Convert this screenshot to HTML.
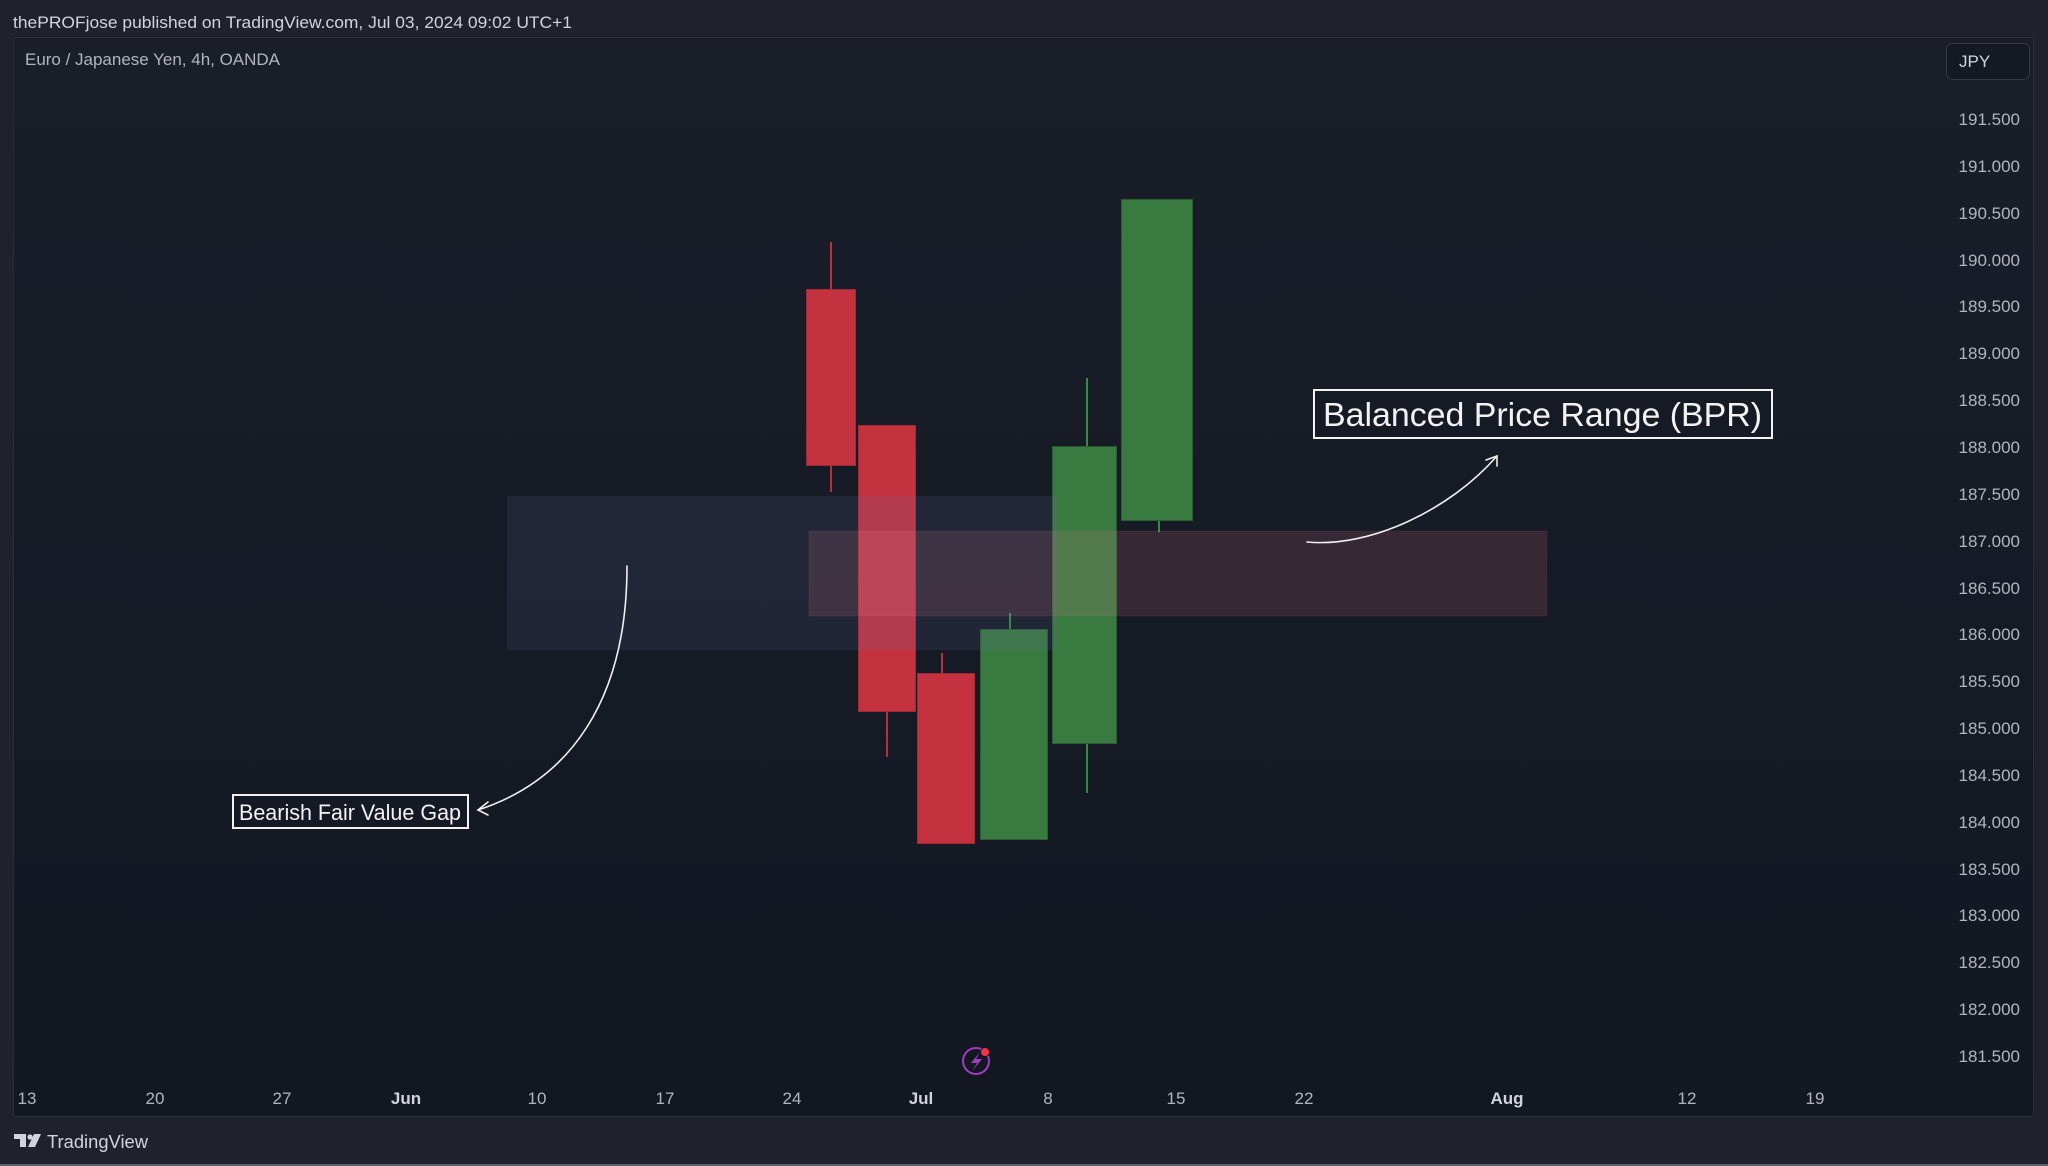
<!DOCTYPE html>
<html><head><meta charset="utf-8"><style>
html,body{margin:0;padding:0;background:#1f222c;width:2048px;height:1166px;overflow:hidden}
svg{display:block}
text{font-family:"Liberation Sans",sans-serif}
</style></head><body>
<svg width="2048" height="1166" viewBox="0 0 2048 1166" xmlns="http://www.w3.org/2000/svg">
<defs>
<linearGradient id="pg" x1="0" y1="0" x2="0" y2="1">
<stop offset="0" stop-color="#1a1e29"/>
<stop offset="1" stop-color="#131722"/>
</linearGradient>
</defs>
<rect x="0" y="0" width="2048" height="1166" fill="#1f222c"/>
<rect x="0" y="1164" width="2048" height="2" fill="#5d606b"/>
<text x="13" y="28" font-size="17" fill="#d1d4dc" textLength="559" lengthAdjust="spacingAndGlyphs">thePROFjose published on TradingView.com, Jul 03, 2024 09:02 UTC+1</text>
<rect x="13.5" y="37.5" width="2020" height="1079" fill="url(#pg)" stroke="#2a2e39" stroke-width="1"/>
<text x="25" y="65" font-size="17" fill="#b2b5be" textLength="255" lengthAdjust="spacingAndGlyphs">Euro / Japanese Yen, 4h, OANDA</text>
<rect x="1946.5" y="43.5" width="83" height="36" rx="6" fill="#151924" stroke="#363a45"/>
<text x="1959" y="67" font-size="17" fill="#d1d4dc">JPY</text>
<g font-size="17" fill="#b2b5be" text-anchor="end">
<text x="2020" y="125">191.500</text>
<text x="2020" y="172">191.000</text>
<text x="2020" y="219">190.500</text>
<text x="2020" y="266">190.000</text>
<text x="2020" y="312">189.500</text>
<text x="2020" y="359">189.000</text>
<text x="2020" y="406">188.500</text>
<text x="2020" y="453">188.000</text>
<text x="2020" y="500">187.500</text>
<text x="2020" y="547">187.000</text>
<text x="2020" y="594">186.500</text>
<text x="2020" y="640">186.000</text>
<text x="2020" y="687">185.500</text>
<text x="2020" y="734">185.000</text>
<text x="2020" y="781">184.500</text>
<text x="2020" y="828">184.000</text>
<text x="2020" y="875">183.500</text>
<text x="2020" y="921">183.000</text>
<text x="2020" y="968">182.500</text>
<text x="2020" y="1015">182.000</text>
<text x="2020" y="1062">181.500</text>
</g>
<g font-size="17" text-anchor="middle" fill="#b2b5be">
<text x="27" y="1104">13</text>
<text x="155" y="1104">20</text>
<text x="282" y="1104">27</text>
<text x="406" y="1104" font-weight="bold" fill="#d1d4dc">Jun</text>
<text x="537" y="1104">10</text>
<text x="665" y="1104">17</text>
<text x="792" y="1104">24</text>
<text x="921" y="1104" font-weight="bold" fill="#d1d4dc">Jul</text>
<text x="1048" y="1104">8</text>
<text x="1176" y="1104">15</text>
<text x="1304" y="1104">22</text>
<text x="1507" y="1104" font-weight="bold" fill="#d1d4dc">Aug</text>
<text x="1687" y="1104">12</text>
<text x="1815" y="1104">19</text>
</g>
<!-- candles -->
<g>
<line x1="831" y1="242" x2="831" y2="492" stroke="#e8394a" stroke-width="1.5"/>
<rect x="806.5" y="289.5" width="49" height="176" fill="#c4323f" stroke="#9e2b36"/>
<line x1="887" y1="700" x2="887" y2="757" stroke="#e8394a" stroke-width="1.5"/>
<rect x="858.5" y="425.5" width="57" height="286" fill="#c4323f" stroke="#9e2b36"/>
<line x1="942" y1="653" x2="942" y2="680" stroke="#e8394a" stroke-width="1.5"/>
<rect x="917.5" y="673.5" width="57" height="170" fill="#c4323f" stroke="#9e2b36"/>
<line x1="1010" y1="613" x2="1010" y2="635" stroke="#43b04d" stroke-width="1.5"/>
<rect x="980.5" y="629.5" width="67" height="210" fill="#397a41" stroke="#2c5a33"/>
<line x1="1087" y1="378" x2="1087" y2="793" stroke="#43b04d" stroke-width="1.5"/>
<rect x="1052.5" y="446.5" width="64" height="297" fill="#397a41" stroke="#2c5a33"/>
<line x1="1159" y1="510" x2="1159" y2="532" stroke="#43b04d" stroke-width="1.5"/>
<rect x="1121.5" y="199.5" width="71" height="321" fill="#397a41" stroke="#2c5a33"/>
</g>
<!-- zones -->
<rect x="507" y="496" width="550" height="154" fill="rgb(94,111,154)" fill-opacity="0.155"/>
<rect x="809" y="531" width="738" height="85" fill="rgb(236,127,138)" fill-opacity="0.15" stroke="rgba(236,127,138,0.08)"/>
<!-- arrows -->
<g fill="none" stroke="#f0f0f0" stroke-width="1.6" stroke-linecap="round">
<path d="M627,566 C627,700 570,780 478,810"/>
<path d="M488,802 L478,810 L488,815"/>
<path d="M1307,542 C1370,548 1450,510 1497,456"/>
<path d="M1486,460 L1497,456 L1497,466"/>
</g>
<!-- labels -->
<rect x="233" y="795" width="235" height="33" fill="#151924" stroke="#f2f2f2" stroke-width="2"/>
<text x="239" y="820" font-size="22" fill="#f2f2f2" textLength="222" lengthAdjust="spacingAndGlyphs">Bearish Fair Value Gap</text>
<rect x="1314" y="390" width="458" height="48" fill="#161a25" stroke="#f2f2f2" stroke-width="2"/>
<text x="1323" y="426" font-size="33" fill="#f2f2f2" textLength="439" lengthAdjust="spacingAndGlyphs">Balanced Price Range (BPR)</text>
<!-- lightning icon -->
<circle cx="976" cy="1061" r="13" fill="none" stroke="#9f3dbf" stroke-width="2"/>
<path d="M980,1052 L971,1063 L977,1063 L972,1071 L982,1059 L976,1059 Z" fill="#9f3dbf"/>
<circle cx="985" cy="1052" r="4.5" fill="#f23645" stroke="#131722" stroke-width="1"/>
<!-- footer logo -->
<g fill="#d1d4dc">
<rect x="14" y="1134" width="12" height="5"/>
<rect x="20" y="1134" width="6" height="13"/>
<circle cx="30" cy="1137" r="2.6"/>
<path d="M34,1134 L41,1134 L35,1147 L28,1147 Z"/>
</g>
<text x="47" y="1148" font-size="18" fill="#d1d4dc" textLength="101" lengthAdjust="spacingAndGlyphs">TradingView</text>
</svg>
</body></html>
